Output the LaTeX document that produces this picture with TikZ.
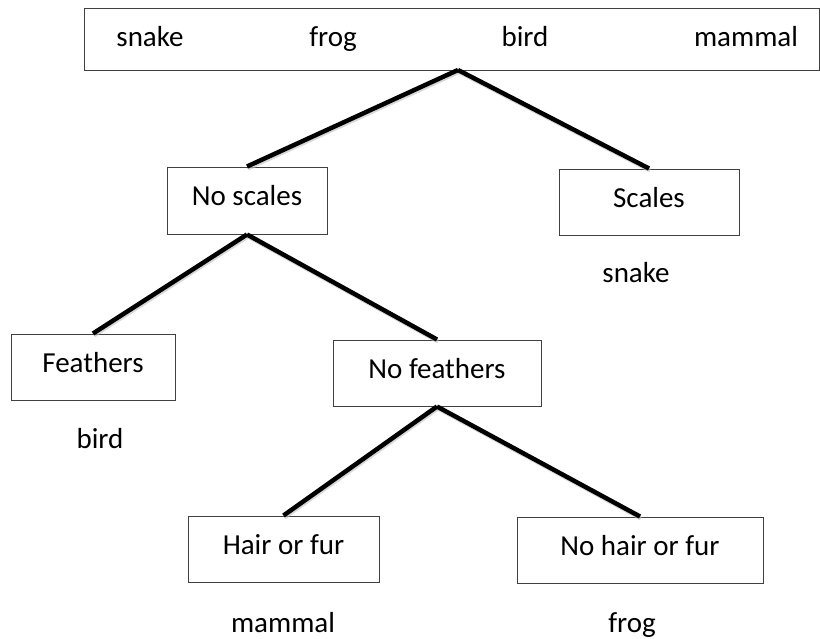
\documentclass[tikz,border=0pt]{standalone}
\usepackage{fontspec}
\setmainfont{Carlito}
\begin{document}
\begin{tikzpicture}[x=1pt,y=-1pt,
  box/.style={draw=black!75, line width=1pt, rectangle, inner sep=0pt,
              font=\fontsize{29}{33}\selectfont, text height=19pt, text depth=9pt,
              anchor=center},
  label/.style={inner sep=0pt, font=\fontsize{29}{33}\selectfont, anchor=base},
  branch/.style={line width=4.5pt, black},
  shade/.style={line width=4pt, black!25, opacity=0.6}]
  % canvas
  \fill[white] (0,0) rectangle (820,638);
  \useasboundingbox (0,0) rectangle (820,638);

  % top box holding all four animals
  \node[box, minimum width=735pt, minimum height=62pt] (all) at (451.5,39) {};
  \node[label] (t1) at (150,46) {snake};
  \node[label] (t2) at (333,46) {frog};
  \node[label] (t3) at (525,46) {bird};
  \node[label] (t4) at (746,46) {mammal};
  \coordinate (root) at (458,70);

  % decision boxes
  \node[box, minimum width=160pt, minimum height=67pt] (noscales) at (247,200.5) {No scales};
  \node[box, minimum width=180pt, minimum height=66pt] (scales) at (649,202) {Scales};
  \node[box, minimum width=164pt, minimum height=66pt] (feathers) at (93,367) {Feathers};
  \node[box, minimum width=208pt, minimum height=66pt] (nofeathers) at (437,373) {No feathers};
  \node[box, minimum width=191pt, minimum height=66pt] (hair) at (283.5,549) {Hair or fur};
  \node[box, minimum width=246pt, minimum height=66pt] (nohair) at (640,550) {No hair or fur};

  % resulting animals
  \node[label] (r1) at (636,282) {snake};
  \node[label] (r2) at (100,448) {bird};
  \node[label] (r3) at (283,632) {mammal};
  \node[label] (r4) at (632,632) {frog};

  % soft shadow under the branches
  \begin{scope}[transform canvas={xshift=1pt,yshift=-2pt}]
    \draw[shade] (root) -- (noscales.north);
    \draw[shade] (root) -- (scales.north);
    \draw[shade] (noscales.south) -- (feathers.north);
    \draw[shade] (noscales.south) -- (nofeathers.north);
    \draw[shade] (nofeathers.south) -- (hair.north);
    \draw[shade] (nofeathers.south) -- (nohair.north);
  \end{scope}

  % branches
  \draw[branch] (root) -- (noscales.north);
  \draw[branch] (root) -- (scales.north);
  \draw[branch] (noscales.south) -- (feathers.north);
  \draw[branch] (noscales.south) -- (nofeathers.north);
  \draw[branch] (nofeathers.south) -- (hair.north);
  \draw[branch] (nofeathers.south) -- (nohair.north);
\end{tikzpicture}
\end{document}
